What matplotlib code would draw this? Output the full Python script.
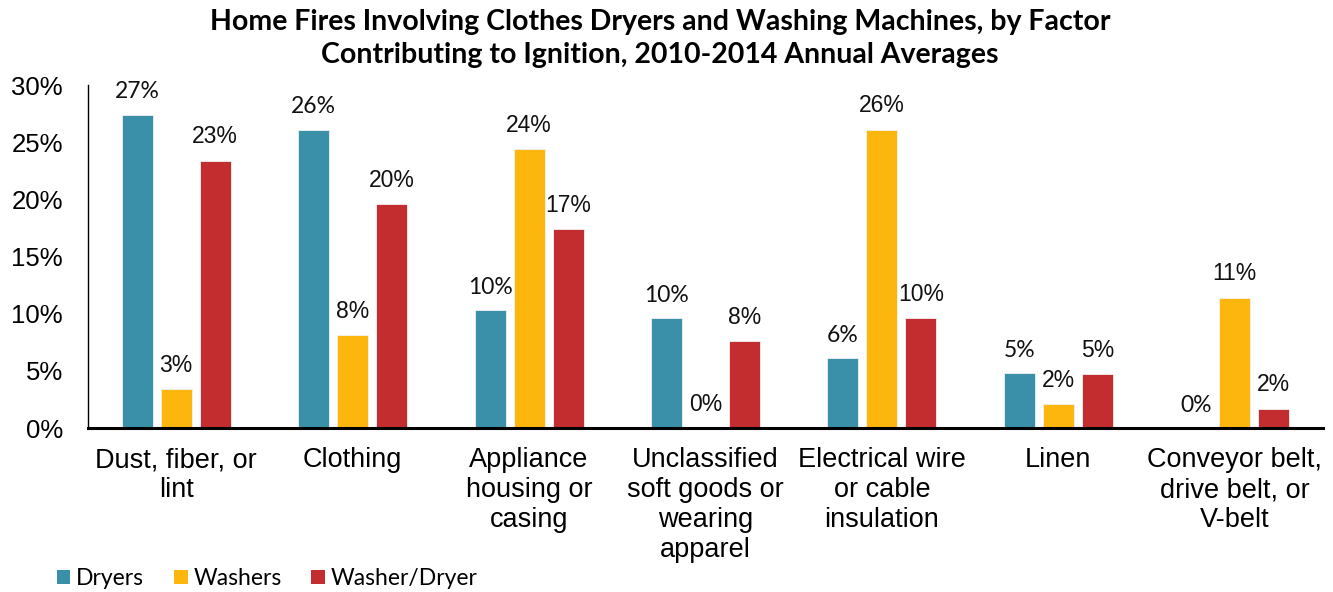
import matplotlib
matplotlib.use("Agg")
import matplotlib.pyplot as plt
import numpy as np
from matplotlib.patches import Patch

categories = [
    "Dust, fiber, or\nlint",
    "Clothing",
    "Appliance\nhousing or\ncasing",
    "Unclassified\nsoft goods or\nwearing\napparel",
    "Electrical wire\nor cable\ninsulation",
    "Linen",
    "Conveyor belt,\ndrive belt, or\nV-belt",
]
series_names = ["Dryers", "Washers", "Washer/Dryer"]
dryers = [27.4, 26.1, 10.3, 9.6, 6.1, 4.8, 0.0]
washers = [3.4, 8.1, 24.4, 0.0, 26.1, 2.1, 11.4]
washer_dryer = [23.4, 19.6, 17.4, 7.6, 9.6, 4.7, 1.7]
y_ticks = [0, 5, 10, 15, 20, 25, 30]

colors = ["#3a90a8", "#fdb60d", "#c32d2f"]
title = ("Home Fires Involving Clothes Dryers and Washing Machines, by Factor\n"
         "Contributing to Ignition, 2010-2014 Annual Averages")

fig = plt.figure(figsize=(13.33, 5.92), dpi=100)
ax = fig.add_axes([0.066, 0.277, 0.9265, 0.579])

x = np.arange(len(categories))
width = 0.176
step = 0.221
label_fonts = ["Lato", "Liberation Sans", "Liberation Sans"]
for i, (vals, color) in enumerate(zip([dryers, washers, washer_dryer], colors)):
    pos = x + (i - 1) * step
    ax.bar(pos, vals, width, color=color, edgecolor="#f2f2f2", linewidth=0.6, zorder=2)
    for px, v in zip(pos, vals):
        ax.annotate(f"{v:.0f}%", (px, v), xytext=(0, 9), textcoords="offset points",
                    ha="center", va="bottom", fontsize=16.5, family=label_fonts[i],
                    color="#111111")

ax.set_xlim(-0.5, 6.5)
ax.set_ylim(0, 30)
ax.set_yticks(y_ticks)
ax.set_yticklabels([f"{t}%" for t in y_ticks], family="Liberation Sans", fontsize=18.5)
ax.set_xticks(x)
ax.set_xticklabels(categories, family="Liberation Sans", fontsize=19.5, linespacing=1.2)
ax.tick_params(axis="both", length=0)
ax.tick_params(axis="x", pad=14)
ax.tick_params(axis="y", pad=18)
for side in ("top", "right"):
    ax.spines[side].set_visible(False)
ax.spines["left"].set_linewidth(1.0)
ax.spines["bottom"].set_linewidth(2.2)

fig.text(0.495, 0.985, title, ha="center", va="top", fontsize=20.5,
         family="Lato", weight="bold", linespacing=1.35)

handles = [Patch(facecolor=c, edgecolor="none") for c in colors]
fig.legend(handles, series_names, loc="lower left", bbox_to_anchor=(0.027, -0.03),
           ncol=3, frameon=False, prop={"family": "Lato", "size": 16.5},
           handlelength=0.6, handleheight=0.6, handletextpad=0.25, columnspacing=1.3)

fig.savefig("out.png", dpi=100)
